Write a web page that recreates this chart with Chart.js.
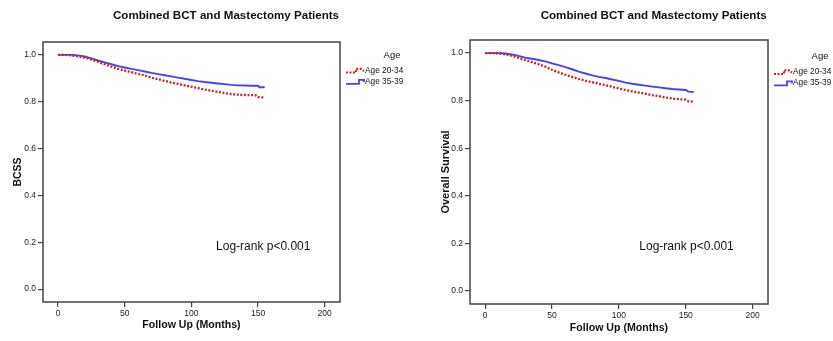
<!DOCTYPE html>
<html>
<head>
<meta charset="utf-8">
<script src="https://cdn.jsdelivr.net/npm/chart.js@4.4.0/dist/chart.umd.min.js"></script>
<style>
html, body { margin: 0; padding: 0; background: #fff; }
#wrap { position: relative; width: 833px; height: 341px; overflow: hidden; }
canvas { position: absolute; top: 0; }
</style>
</head>
<body>
<div id="wrap">
  <canvas id="bcss" width="420" height="341" style="left:0"></canvas>
  <canvas id="os" width="413" height="341" style="left:420px"></canvas>
</div>
<script>
var chartTitle = 'Combined BCT and Mastectomy Patients';
var xTitle = 'Follow Up (Months)';
var legendTitle = 'Age';
var groupLabels = ['Age 20-34', 'Age 35-39'];
var noteText = 'Log-rank p<0.001';
var xTicks = [0, 50, 100, 150, 200];
var yTicks = [0, 0.2, 0.4, 0.6, 0.8, 1.0];

// BCSS panel
var bcssMonthsYoung = [0, 5, 10, 15, 20, 25, 30, 35, 40, 45, 50, 55, 60, 65, 70, 75, 80, 85, 90, 95, 100, 105, 110, 115, 120, 125, 130, 135, 140, 145, 148, 150, 155];
var bcssYoung = [1.0, 1.0, 0.998, 0.994, 0.988, 0.98, 0.97, 0.96, 0.95, 0.94, 0.933, 0.926, 0.919, 0.912, 0.903, 0.896, 0.889, 0.882, 0.876, 0.87, 0.864, 0.858, 0.852, 0.847, 0.842, 0.837, 0.832, 0.83, 0.829, 0.828, 0.828, 0.82, 0.818];
var bcssMonthsOld = [0, 5, 10, 15, 20, 25, 30, 35, 40, 45, 50, 55, 60, 65, 70, 75, 80, 85, 90, 95, 100, 105, 110, 115, 120, 125, 130, 135, 140, 145, 150, 151, 155];
var bcssOld = [1.0, 1.0, 1.0, 0.998, 0.993, 0.985, 0.976, 0.968, 0.96, 0.952, 0.946, 0.94, 0.935, 0.929, 0.923, 0.918, 0.913, 0.908, 0.903, 0.898, 0.893, 0.888, 0.884, 0.881, 0.878, 0.875, 0.872, 0.87, 0.869, 0.868, 0.868, 0.862, 0.862];

// Overall survival panel
var osMonths = [0, 5, 10, 15, 20, 25, 30, 35, 40, 45, 50, 55, 60, 65, 70, 75, 80, 85, 90, 95, 100, 105, 110, 115, 120, 125, 130, 135, 140, 145, 150, 152, 156];
var osYoung = [1.0, 1.0, 0.999, 0.995, 0.989, 0.98, 0.971, 0.962, 0.953, 0.943, 0.93, 0.919, 0.909, 0.9, 0.891, 0.884, 0.878, 0.871, 0.865, 0.858, 0.851, 0.845, 0.839, 0.834, 0.829, 0.823, 0.819, 0.813, 0.809, 0.806, 0.804, 0.797, 0.796];
var osOld = [1.0, 1.0, 1.0, 0.998, 0.994, 0.988, 0.981, 0.976, 0.971, 0.965, 0.957, 0.949, 0.941, 0.932, 0.922, 0.914, 0.906, 0.9, 0.895, 0.889, 0.883, 0.876, 0.871, 0.867, 0.863, 0.859, 0.856, 0.852, 0.849, 0.847, 0.845, 0.838, 0.836];

var FONT = '"Liberation Sans", Arial, sans-serif';
var RED = '#cc2222';
var BLUE = '#4444f4';
var INK = '#111';

function pts(xs, ys) {
    return xs.map(function (x, i) { return { x: x, y: ys[i] }; });
}

// frame, title, note and the little SPSS style legend
var panelDecor = {
    id: 'panelDecor',
    afterDraw: function (chart, args, o) {
        var ctx = chart.ctx, a = chart.chartArea;
        ctx.save();
        ctx.strokeStyle = '#444';
        ctx.lineWidth = 1.5;
        ctx.strokeRect(a.left, a.top, a.right - a.left, a.bottom - a.top);

        ctx.fillStyle = INK;
        ctx.font = 'bold 11.6px ' + FONT;
        ctx.textAlign = 'center';
        ctx.textBaseline = 'alphabetic';
        ctx.fillText(chartTitle, o.titleX, 18.5);

        ctx.font = '12px ' + FONT;
        ctx.textAlign = 'left';
        ctx.fillText(noteText, chart.scales.x.getPixelForValue(o.noteAt[0]),
            chart.scales.y.getPixelForValue(o.noteAt[1]));

        // legend
        ctx.font = '9.5px ' + FONT;
        ctx.textAlign = 'center';
        ctx.fillText(legendTitle, o.legX + 46, o.legY - 13);
        ctx.font = '8.3px ' + FONT;
        ctx.textAlign = 'left';
        ctx.textBaseline = 'middle';
        var x0 = o.legX, y1 = o.legY, y2 = o.legY + 11;
        ctx.lineWidth = 2.2;
        ctx.strokeStyle = RED;
        ctx.setLineDash([2, 1.5]);
        ctx.beginPath();
        ctx.moveTo(x0, y1 + 2); ctx.lineTo(x0 + 10, y1 + 2);
        ctx.lineTo(x0 + 10, y1 - 1.7); ctx.lineTo(x0 + 15, y1 - 1.7);
        ctx.lineTo(x0 + 18, y1 + 0.5);
        ctx.stroke();
        ctx.setLineDash([]);
        ctx.lineWidth = 1.8;
        ctx.strokeStyle = BLUE;
        ctx.beginPath();
        ctx.moveTo(x0, y2 + 2.3); ctx.lineTo(x0 + 13, y2 + 2.3);
        ctx.lineTo(x0 + 13, y2 - 1.7); ctx.lineTo(x0 + 18, y2 - 1.7);
        ctx.lineTo(x0 + 18, y2 + 0.5);
        ctx.stroke();
        ctx.fillText(groupLabels[0], x0 + 19, y1);
        ctx.fillText(groupLabels[1], x0 + 19, y2);
        ctx.restore();
    }
};

function makeChart(id, p) {
    return new Chart(document.getElementById(id), {
        type: 'line',
        data: {
            datasets: [{
                label: groupLabels[0],
                data: pts(p.xYoung, p.young),
                borderColor: RED,
                borderWidth: 2.3,
                borderDash: [2, 1.6],
                pointRadius: 0
            }, {
                label: groupLabels[1],
                data: pts(p.xOld, p.old),
                borderColor: BLUE,
                borderWidth: 1.9,
                pointRadius: 0
            }]
        },
        options: {
            responsive: false,
            animation: false,
            devicePixelRatio: 1,
            layout: { padding: { top: p.top, right: p.right, left: 0, bottom: 0 } },
            plugins: {
                legend: { display: false },
                tooltip: { enabled: false },
                panelDecor: p.decor
            },
            scales: {
                x: {
                    type: 'linear',
                    min: -11.3,
                    max: 211.5,
                    afterBuildTicks: function (s) { s.ticks = xTicks.map(function (v) { return { value: v }; }); },
                    afterFit: function (s) { s.height = p.xAxisH; },
                    grid: { drawOnChartArea: false, tickLength: 5, color: '#444', lineWidth: 1.2 },
                    border: { display: false },
                    ticks: { color: '#222', padding: 2, maxRotation: 0, font: { family: FONT, size: 8.5 } },
                    title: {
                        display: true, text: xTitle, color: INK,
                        font: { family: FONT, size: 10.6, weight: 'bold' },
                        padding: { top: 0, bottom: p.xTitlePad }
                    }
                },
                y: {
                    min: -0.055,
                    max: 1.055,
                    afterBuildTicks: function (s) { s.ticks = yTicks.map(function (v) { return { value: v }; }); },
                    afterFit: function (s) { s.width = p.yAxisW; },
                    grid: { drawOnChartArea: false, tickLength: 5, color: '#444', lineWidth: 1.2 },
                    border: { display: false },
                    ticks: {
                        color: '#222', padding: 2, font: { family: FONT, size: 8.5 },
                        callback: function (v) { return Number(v).toFixed(1); }
                    },
                    title: {
                        display: true, text: p.yTitle, color: INK,
                        font: { family: FONT, size: p.yTitleSize, weight: 'bold' },
                        padding: { top: p.yTitlePad, bottom: 0 }
                    }
                }
            }
        },
        plugins: [panelDecor]
    });
}

makeChart('bcss', {
    xYoung: bcssMonthsYoung, young: bcssYoung,
    xOld: bcssMonthsOld, old: bcssOld,
    yTitle: 'BCSS', yTitleSize: 10.5, yTitlePad: 11.7, xTitlePad: 9.7,
    top: 42, right: 80, yAxisW: 43, xAxisH: 39,
    decor: { titleX: 226, noteAt: [118.5, 0.167], legX: 346, legY: 70.5 }
});

makeChart('os', {
    xYoung: osMonths, young: osYoung,
    xOld: osMonths, old: osOld,
    yTitle: 'Overall Survival', yTitleSize: 11, yTitlePad: 19, xTitlePad: 6.7,
    top: 40, right: 65, yAxisW: 50, xAxisH: 37,
    decor: { titleX: 233.7, noteAt: [115.3, 0.17], legX: 354, legY: 72 }
});
</script>
</body>
</html>
